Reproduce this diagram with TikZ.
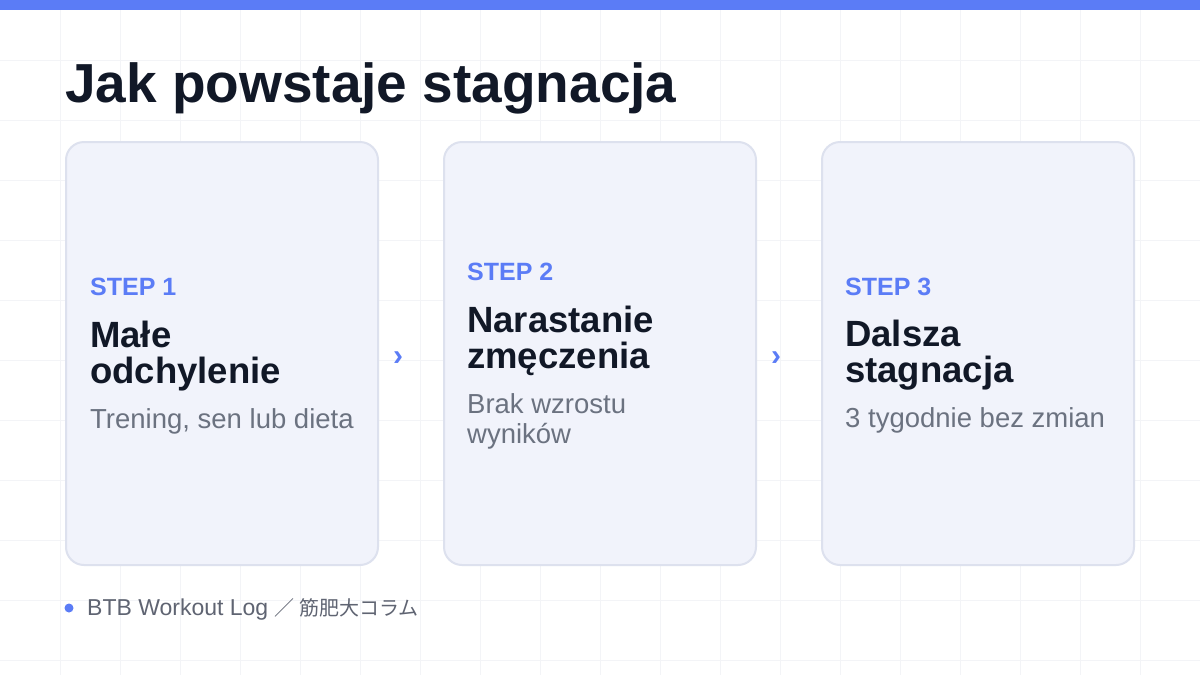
\documentclass[tikz,border=0pt]{standalone}
\usepackage{fontspec}
\usepackage{xcolor}
\setmainfont{Liberation Sans}
\newfontfamily\cjk{Noto Sans CJK JP}

\definecolor{akcent}{RGB}{91,124,246}
\definecolor{granat}{RGB}{17,24,39}
\definecolor{tlokarty}{RGB}{241,243,251}
\definecolor{ramka}{RGB}{221,225,238}
\definecolor{szary}{RGB}{107,114,128}
\definecolor{stopka}{RGB}{95,100,114}
\definecolor{siatka}{RGB}{243,244,247}

\begin{document}
\begin{tikzpicture}[x=1pt,y=-1pt]
        \tikzstyle{karta}=[fill=tlokarty, draw=ramka, line width=2pt, rounded corners=18pt, minimum width=312pt, minimum height=423pt, inner sep=0pt]
        \tikzstyle{krok}=[anchor=base west, inner sep=0pt, text=akcent, font=\fontsize{25}{30}\selectfont\bfseries]
        \tikzstyle{naglowek}=[anchor=base west, inner sep=0pt, align=left, text=granat, font=\fontsize{36.5}{36}\selectfont\bfseries]
        \tikzstyle{opis}=[anchor=base west, inner sep=0pt, align=left, text=szary, font=\fontsize{27.5}{30}\selectfont]
        \tikzstyle{strzalka}=[inner sep=0pt, text=akcent, font=\fontsize{30}{30}\selectfont\bfseries]
        \tikzstyle{kropka}=[fill=akcent, circle, inner sep=0pt, minimum size=9pt]

        \useasboundingbox (0,0) rectangle (1200,675);
        \fill[white] (0,0) rectangle (1200,675);

        % siatka w tle
        \foreach \gx in {60,120,...,1140} \draw[siatka, line width=1pt] (\gx,0) -- (\gx,675);
        \foreach \gy in {60,120,...,660} \draw[siatka, line width=1pt] (0,\gy) -- (1200,\gy);

        \fill[akcent] (0,0) rectangle (1200,9.5);

        \node[anchor=base west, inner sep=0pt, text=granat, font=\fontsize{55}{60}\selectfont\bfseries] (tytul) at (65,102) {Jak powstaje stagnacja};

        \coordinate (K1) at (222,353.5);
        \coordinate (K2) at (600,353.5);
        \coordinate (K3) at (978,353.5);

        \node at (K1)[karta] (karta1) {};
        \node at (K2)[karta] (karta2) {};
        \node at (K3)[karta] (karta3) {};

        \node at (398,359)[strzalka] (s12) {›};
        \node at (776,359)[strzalka] (s23) {›};

        % krok 1 (base = ostatnia linia)
        \node at (90,295)[krok] (krok1) {STEP 1};
        \node at ([yshift=-88pt]krok1.base west)[naglowek] (nagl1) {Małe\\odchylenie};
        \node at ([yshift=-45pt]nagl1.base west)[opis] (opis1) {Trening, sen lub dieta};

        % krok 2
        \node at (467,280)[krok] (krok2) {STEP 2};
        \node at ([yshift=-88pt]krok2.base west)[naglowek] (nagl2) {Narastanie\\zmęczenia};
        \node at ([yshift=-75pt]nagl2.base west)[opis] (opis2) {Brak wzrostu\\wyników};

        % krok 3
        \node at (845,295)[krok] (krok3) {STEP 3};
        \node at ([yshift=-87pt]krok3.base west)[naglowek] (nagl3) {Dalsza\\stagnacja};
        \node at ([yshift=-45pt]nagl3.base west)[opis] (opis3) {3 tygodnie bez zmian};

        % stopka
        \node at (69,608)[kropka] (kropka) {};
        \node at (87,615)[anchor=base west, inner sep=0pt, text=stopka, font=\fontsize{23}{24}\selectfont] (podpis) {BTB Workout Log {\cjk\fontsize{20}{24}\selectfont ／ 筋肥大コラム}};
      \end{tikzpicture}
\end{document}
